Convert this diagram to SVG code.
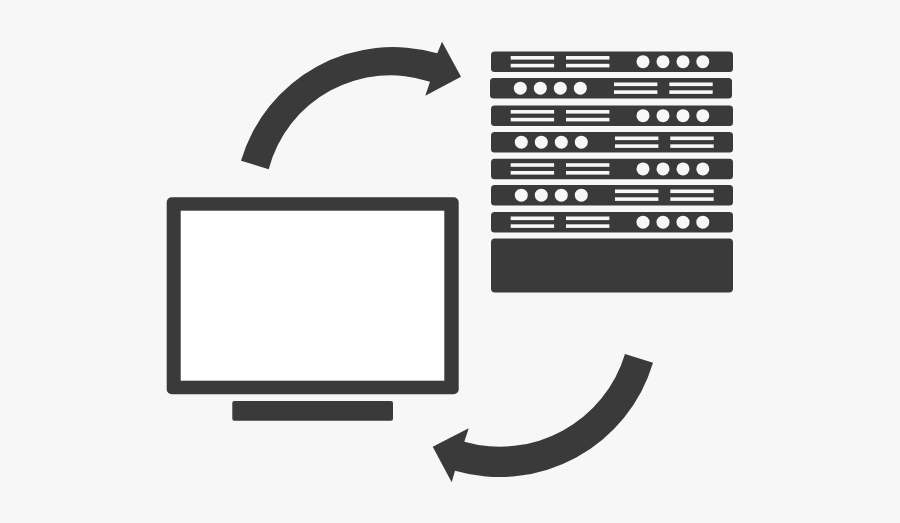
<svg xmlns="http://www.w3.org/2000/svg" xmlns:xlink="http://www.w3.org/1999/xlink" width="900" height="523" viewBox="0 0 900 523">
  <style>
    .d{fill:#3a3a3a}
    .l{fill:#f7f7f7}
  </style>
  <defs>
    <g id="panelA">
      <rect class="d" x="0" y="0" width="242" height="20.5" rx="3.5"/>
      <rect class="l" x="19.7" y="4.5" width="43.4" height="3.6"/>
      <rect class="l" x="19.7" y="12.3" width="43.4" height="3.6"/>
      <rect class="l" x="75" y="4.5" width="43.4" height="3.6"/>
      <rect class="l" x="75" y="12.3" width="43.4" height="3.6"/>
      <circle class="l" cx="152" cy="10.2" r="6.5"/>
      <circle class="l" cx="172" cy="10.2" r="6.5"/>
      <circle class="l" cx="192" cy="10.2" r="6.5"/>
      <circle class="l" cx="211.8" cy="10.2" r="6.5"/>
    </g>
    <g id="panelB">
      <rect class="d" x="0" y="0" width="242" height="20.5" rx="3.5"/>
      <circle class="l" cx="30.3" cy="10.2" r="6.5"/>
      <circle class="l" cx="50.3" cy="10.2" r="6.5"/>
      <circle class="l" cx="70.3" cy="10.2" r="6.5"/>
      <circle class="l" cx="90.3" cy="10.2" r="6.5"/>
      <rect class="l" x="124" y="4.5" width="43.4" height="3.6"/>
      <rect class="l" x="124" y="12.3" width="43.4" height="3.6"/>
      <rect class="l" x="179.3" y="4.5" width="43.4" height="3.6"/>
      <rect class="l" x="179.3" y="12.3" width="43.4" height="3.6"/>
    </g>
  </defs>
  <rect width="900" height="523" fill="#f7f7f7"/>
  <g id="monitor">
    <rect class="d" x="166.7" y="197.3" width="292" height="197" rx="5"/>
    <rect x="180.7" y="210.7" width="263.6" height="170" fill="#fff"/>
    <rect class="d" x="232.3" y="401" width="160.7" height="19.7" rx="2"/>
  </g>
  <g id="server">
    <use xlink:href="#panelA" x="491" y="51.5"/>
    <use xlink:href="#panelB" x="490" y="78"/>
    <use xlink:href="#panelA" x="491" y="105.5"/>
    <use xlink:href="#panelB" x="491" y="132"/>
    <use xlink:href="#panelA" x="491" y="158.7"/>
    <use xlink:href="#panelB" x="491" y="185"/>
    <use xlink:href="#panelA" x="491" y="212"/>
    <rect class="d" x="491" y="238.5" width="242" height="54" rx="4"/>
  </g>
  <g id="connectors">
    <path class="d" d="M241 160.7A158.7 158.7 0 0 1 437.3 53.3L442 41.7L461 76.7L425.3 95.7L430 81.7A125.7 125.7 0 0 0 268.7 169.3Z"/>
    <path class="d" d="M653 362.7A160 160 0 0 1 455 470.7L451.7 482.3L432.7 446.7L468.7 428.3L464.3 441.7A130.6 130.6 0 0 0 625 354Z"/>
  </g>
</svg>
